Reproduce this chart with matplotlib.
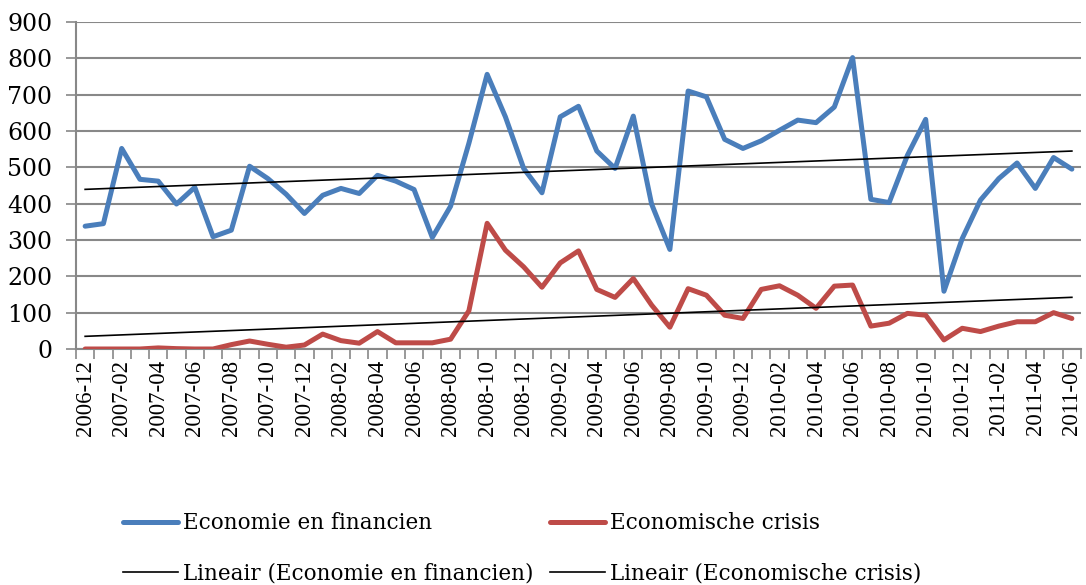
import matplotlib.pyplot as plt
import numpy as np
import pandas as pd

# Monthly categories 2006-12 .. 2011-06
MONTHS = pd.period_range("2006-12", "2011-06", freq="M").strftime("%Y-%m").tolist()

ECONOMIE = [338, 345, 552, 467, 462, 399, 445, 309, 327, 503,
            469, 426, 373, 423, 442, 428, 478, 462, 439, 307,
            393, 566, 756, 639, 497, 430, 639, 668, 545, 497,
            641, 399, 274, 710, 694, 577, 552, 573, 602, 630,
            623, 666, 802, 412, 403, 533, 632, 159, 304, 410,
            469, 512, 442, 527, 495]

CRISIS = [0, 0, 0, 0, 3, 1, 0, 0, 12, 22,
          13, 5, 11, 41, 23, 16, 48, 17, 17, 17,
          27, 105, 346, 272, 226, 170, 237, 270, 164, 142,
          194, 121, 60, 166, 148, 93, 84, 164, 174, 148,
          112, 173, 176, 63, 71, 98, 93, 25, 57, 48,
          63, 75, 75, 100, 84]

LABEL_A = "Economie en financien"
LABEL_B = "Economische crisis"

BLUE = "#4a7ebb"
RED = "#be4b48"
GRID = "#888888"


def main():
    plt.rcParams["font.family"] = ["DejaVu Serif"]

    x = np.arange(len(MONTHS))
    fig = plt.figure(figsize=(10.86, 5.85), dpi=100)
    ax = fig.add_axes([76 / 1086, 1 - 349 / 585, (1081 - 76) / 1086, (349 - 22) / 585])

    la, = ax.plot(x, ECONOMIE, color=BLUE, lw=3.6, solid_joinstyle="round", solid_capstyle="round", zorder=3)
    lb, = ax.plot(x, CRISIS, color=RED, lw=3.6, solid_joinstyle="round", solid_capstyle="round", zorder=3)

    # linear trend lines
    ka = np.polyfit(x, ECONOMIE, 1)
    kb = np.polyfit(x, CRISIS, 1)
    ta, = ax.plot(x, np.polyval(ka, x), color="black", lw=1.2, zorder=4)
    tb, = ax.plot(x, np.polyval(kb, x), color="black", lw=1.2, zorder=4)

    ax.set_xlim(-0.5, len(MONTHS) - 0.5)
    ax.set_ylim(0, 900)
    ax.set_yticks(np.arange(0, 901, 100))
    ax.yaxis.grid(True, color=GRID, lw=1.5)
    ax.set_axisbelow(True)

    ax.set_xticks(x[::2])
    ax.set_xticklabels(MONTHS[::2], rotation=90, family="Liberation Serif", fontsize=16.5)
    ax.set_xticks(np.arange(-0.5, len(MONTHS), 1.0), minor=True)
    ax.tick_params(axis="x", which="major", length=0, pad=8)
    ax.tick_params(axis="x", which="minor", length=7, width=1.2, color=GRID)
    ax.tick_params(axis="y", length=7, width=1.2, color=GRID, labelsize=17, pad=10)

    for side in ["top", "right"]:
        ax.spines[side].set_visible(False)
    for side in ["left", "bottom"]:
        ax.spines[side].set_color(GRID)
        ax.spines[side].set_linewidth(1.5)

    fig.legend(
        [la, ta, lb, tb],
        [LABEL_A, "Lineair (" + LABEL_A + ")", LABEL_B, "Lineair (" + LABEL_B + ")"],
        ncol=2,
        loc="upper left",
        bbox_to_anchor=(104 / 1086, 1 - 493 / 585),
        frameon=False,
        fontsize=15.5,
        handlelength=2.55,
        handletextpad=0.2,
        columnspacing=0.8,
        labelspacing=1.3,
    )

    fig.savefig("out.png", dpi=100)
    plt.close(fig)


if __name__ == "__main__":
    main()
